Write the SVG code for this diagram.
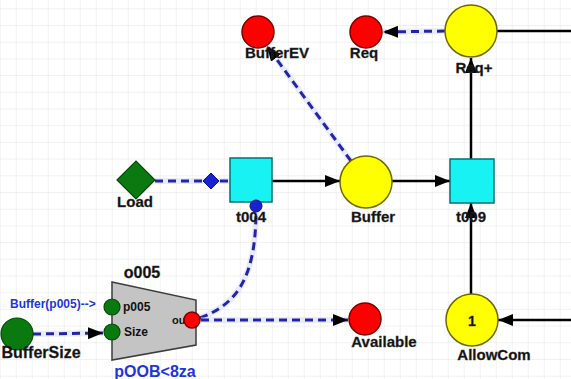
<svg xmlns="http://www.w3.org/2000/svg" width="571" height="379" viewBox="0 0 571 379">
<defs>
<pattern id="grid" x="-0.3" y="8.3" width="16" height="16.7" patternUnits="userSpaceOnUse">
<path d="M0 0 H16 M0 0 V16.7" fill="none" stroke="#e4e4e4" stroke-width="1"/>
</pattern>
<marker id="arr" markerUnits="userSpaceOnUse" markerWidth="16" markerHeight="12" refX="15" refY="6" orient="auto">
<path d="M0,0 L15,6 L0,12 z" fill="#000"/>
</marker>
<style>
.lbl{font-family:"Liberation Sans",Arial,sans-serif;font-weight:bold;font-size:15px;fill:#111;text-anchor:middle;stroke:#333;stroke-width:0.3}
.sm{font-family:"Liberation Sans",Arial,sans-serif;font-weight:bold;font-size:12px;fill:#111}
.blue{font-family:"Liberation Sans",Arial,sans-serif;font-weight:bold;fill:#1f35d8}
.red{fill:#f00;stroke:#7a0000;stroke-width:1.5}
.yel{fill:#ffff00;stroke:#6e6a00;stroke-width:1.5}
.grn{fill:#0a7a10;stroke:#064a08;stroke-width:1.2}
.cyan{fill:#19f2f2;stroke:#0a6e74;stroke-width:1.5}
.solid{fill:none;stroke:#000;stroke-width:2.5}
.halo{fill:none;stroke:#d3daff;stroke-width:6;opacity:0.5}
.dash{fill:none;stroke:#2424a8;stroke-width:3;stroke-dasharray:8 5}
</style>
</defs>
<rect width="571" height="379" fill="#fff"/>
<rect width="571" height="379" fill="url(#grid)"/>

<g id="connectors">
<path class="solid" d="M497,31 L571,31"/>
<path class="solid" d="M471,159 L471,58" marker-end="url(#arr)"/>
<path class="solid" d="M471,294 L471,203" marker-end="url(#arr)"/>
<path class="solid" d="M571,320 L498,320" marker-end="url(#arr)"/>
<path class="solid" d="M272,181 L340,181" marker-end="url(#arr)"/>
<path class="solid" d="M392,181 L450,181" marker-end="url(#arr)"/>
<path class="halo" d="M445,31 L383,32"/>
<path class="dash" d="M445,31 L383,32" marker-end="url(#arr)"/>
<path class="halo" d="M351,161 L267,46"/>
<path class="dash" d="M351,161 L267,46" marker-end="url(#arr)"/>
<path class="halo" d="M155,181 L230,181"/>
<path class="dash" d="M155,181 L230,181"/>
<polygon points="203,181 211,173 219,181 211,189" fill="#1a22d0" stroke="#10108a" stroke-width="1"/>
<path class="halo" d="M200,318 C238,304 256,276 256,210"/>
<path class="dash" d="M200,318 C238,304 256,276 256,210"/>
<path class="halo" d="M201,320 L348,320"/>
<path class="dash" d="M201,320 L348,320" marker-end="url(#arr)"/>
<path class="halo" d="M33,334 L103,333"/>
<path class="dash" d="M33,334 L103,333" marker-end="url(#arr)"/>
</g>

<g id="BufferEV">
<circle class="red" cx="258" cy="32" r="16"/>
<text class="lbl" x="277" y="58">BufferEV</text>
</g>
<g id="Req">
<circle class="red" cx="366" cy="32" r="16"/>
<text class="lbl" x="364" y="58">Req</text>
</g>
<g id="ReqPlus">
<circle class="yel" cx="471" cy="31" r="26"/>
<text class="lbl" x="474" y="73">Req+</text>
</g>
<g id="Load">
<polygon class="grn" points="117,180 136,161 155,180 136,199"/>
<text class="lbl" x="135" y="207">Load</text>
</g>
<g id="t004">
<rect class="cyan" x="230" y="158" width="42" height="44"/>
<text class="lbl" x="251" y="222">t004</text>
<circle cx="256" cy="206" r="6" fill="#1a22d0" stroke="#10108a" stroke-width="1"/>
</g>
<g id="Buffer">
<circle class="yel" cx="366" cy="182" r="26"/>
<text class="lbl" x="373" y="222">Buffer</text>
</g>
<g id="t009">
<rect class="cyan" x="450" y="159" width="44" height="44"/>
<text class="lbl" x="471" y="222">t009</text>
</g>
<g id="AllowCom">
<circle class="yel" cx="472" cy="320" r="26"/>
<text class="lbl" x="472" y="326" style="font-size:14px">1</text>
<text class="lbl" x="494" y="360">AllowCom</text>
</g>
<g id="Available">
<circle class="red" cx="365" cy="319" r="16"/>
<text class="lbl" x="384" y="347">Available</text>
</g>
<g id="BufferSize">
<circle class="grn" cx="17" cy="334" r="16"/>
<text class="lbl" x="41" y="358" style="font-size:16px">BufferSize</text>
</g>
<g id="o005">
<polygon points="112,282 196,300 196,345 112,360" fill="#c4c4c4" stroke="#3c3c3c" stroke-width="1.5"/>
<text class="lbl" x="142" y="278" style="font-size:16px">o005</text>
<circle class="grn" cx="112" cy="307" r="8"/>
<circle class="grn" cx="112" cy="332" r="8"/>
<text class="sm" x="123" y="311">p005</text>
<text class="sm" x="124" y="336">Size</text>
<text class="sm" x="172" y="324" style="font-size:11px">out</text>
<circle class="red" cx="192" cy="320" r="8"/>
<text class="blue" x="10" y="308" style="font-size:12px">Buffer(p005)--&gt;</text>
<text class="blue" x="155" y="377" style="font-size:16px;text-anchor:middle">pOOB&lt;8za</text>
</g>
</svg>
